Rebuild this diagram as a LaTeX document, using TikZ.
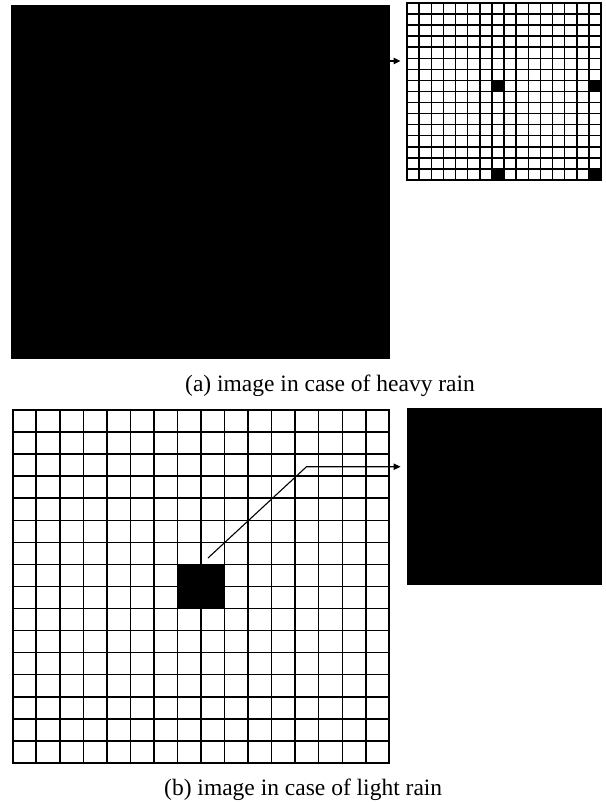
\documentclass[tikz,border=0pt]{standalone}
\usepackage{fontspec}
\setmainfont{Liberation Serif}
\usetikzlibrary{arrows.meta}
\begin{document}
\begin{tikzpicture}[x=1pt,y=-1pt,
  gridline/.style={line width=1.5pt, black},
  border/.style={line width=2.2pt, black},
  conn/.style={line width=1.1pt, -{Triangle[length=7pt,width=6.5pt]}},
  captext/.style={font=\fontsize{23.5}{28}\selectfont, anchor=base west, inner sep=0pt}]
\useasboundingbox (0,0) rectangle (605,802);
\fill[white] (0,0) rectangle (605,802);

% ---------- (a) heavy rain ----------
\fill (11,5) rectangle (390,359);
\node[inner sep=0pt, minimum size=0pt] (bigA) at (390,61) {};
% small grid
\def\ax{407}\def\ay{3}\def\aw{12.125}\def\ah{11.0625}
\foreach \c/\r in {7/7,15/7,7/15,15/15}
  \fill ({\ax+\c*\aw},{\ay+\r*\ah}) rectangle ({\ax+(\c+1)*\aw},{\ay+(\r+1)*\ah});
\foreach \i in {1,...,15} {
  \draw[gridline] ({\ax+\i*\aw},\ay) -- ({\ax+\i*\aw},{\ay+16*\ah});
  \draw[gridline] (\ax,{\ay+\i*\ah}) -- ({\ax+16*\aw},{\ay+\i*\ah});
}
\draw[border] (\ax,\ay) rectangle ({\ax+16*\aw},{\ay+16*\ah});
\coordinate (gridA) at (400.5,61);
\draw[conn] (bigA) -- (gridA);
\node[captext] (capA) at (185,391) {(a) image in case of heavy rain};

% ---------- (b) light rain ----------
\def\bx{12.7}\def\by{410}\def\bw{23.54}\def\bh{22.06}
\fill ({\bx+7*\bw},{\by+7*\bh}) rectangle ({\bx+9*\bw},{\by+9*\bh});
\foreach \i in {1,...,15} {
  \draw[gridline] ({\bx+\i*\bw},\by) -- ({\bx+\i*\bw},{\by+16*\bh});
  \draw[gridline] (\bx,{\by+\i*\bh}) -- ({\bx+16*\bw},{\by+\i*\bh});
}
\draw[border] (\bx,\by) rectangle ({\bx+16*\bw},{\by+16*\bh});
\fill (407,408) rectangle (602,585);
\coordinate (cellB) at (208,558);
\coordinate (bend) at (306.5,466.7);
\coordinate (bigB) at (400.5,466.7);
\draw[conn] (cellB) -- (bend) -- (bigB);
\node[captext] (capB) at (164,795) {(b) image in case of light rain};
\end{tikzpicture}
\end{document}
